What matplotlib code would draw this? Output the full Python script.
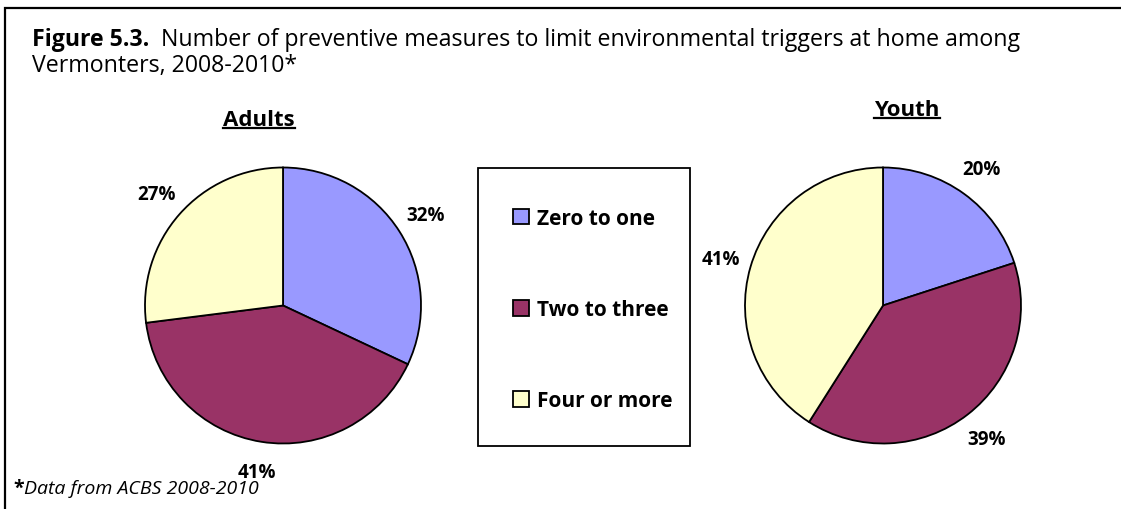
import matplotlib
matplotlib.use("Agg")
import matplotlib.pyplot as plt
from matplotlib.patches import Rectangle
from matplotlib.lines import Line2D

# Data
categories = ["Zero to one", "Two to three", "Four or more"]
adults = [32, 41, 27]
youth = [20, 39, 41]
colors = ["#9999FF", "#993366", "#FFFFCC"]

W, H = 1121, 510
FONT = "Open Sans"

fig = plt.figure(figsize=(W / 100, H / 100), dpi=100)
fig.patch.set_facecolor("white")


def fx(px):
    return px / W


def fy(py):
    return 1 - py / H


# Outer border (left and top edges visible)
fig.patches.append(Rectangle((fx(5), -0.2), 1.5, fy(9) + 0.2, transform=fig.transFigure,
                             fill=False, edgecolor="black", linewidth=1.6))

# Title
TITLE_SIZE = 16.7
t1 = fig.text(fx(32), fy(46), "Figure 5.3.", fontsize=TITLE_SIZE, fontweight="bold",
              family=FONT, va="baseline", ha="left")
fig.canvas.draw()
r = fig.canvas.get_renderer()
bb = t1.get_window_extent(r)
fig.text(bb.x1 / W, fy(46), "  Number of preventive measures to limit environmental triggers at home among",
         fontsize=TITLE_SIZE, family=FONT, va="baseline", ha="left")
fig.text(fx(32), fy(72), "Vermonters, 2008-2010*", fontsize=TITLE_SIZE, family=FONT,
         va="baseline", ha="left")

# Footnote
f1 = fig.text(fx(13), fy(494), "*", fontsize=14, fontweight="bold", family=FONT,
              va="baseline", ha="left")
fig.canvas.draw()
bbf = f1.get_window_extent(fig.canvas.get_renderer())
fig.text(bbf.x1 / W, fy(494), "Data from ACBS 2008-2010", fontsize=14, style="italic",
         family=FONT, va="baseline", ha="left")


def underlined_title(text, cx, baseline):
    t = fig.text(fx(cx), fy(baseline), text, fontsize=16, fontweight="bold",
                 family=FONT, ha="center", va="baseline")
    fig.canvas.draw()
    b = t.get_window_extent(fig.canvas.get_renderer())
    yline = fy(baseline + 3)
    fig.lines.append(Line2D([b.x0 / W, b.x1 / W], [yline, yline], transform=fig.transFigure,
                            color="black", linewidth=1.6))


def draw_pie(values, cx, cy, radius):
    ax = fig.add_axes([fx(cx - 1.5 * radius), fy(cy + 1.5 * radius),
                       3 * radius / W, 3 * radius / H])
    wedges, _, autotexts = ax.pie(
        values, colors=colors, startangle=90, counterclock=False,
        wedgeprops=dict(edgecolor="black", linewidth=1.3),
        autopct=lambda p: f"{p:.0f}%", pctdistance=1.22,
        textprops=dict(fontsize=13.5, fontweight="bold", family=FONT, color="black"),
    )
    ax.set_xlim(-1.5, 1.5)
    ax.set_ylim(-1.5, 1.5)
    ax.set_aspect("equal")
    ax.axis("off")
    return wedges


wedges = draw_pie(adults, 283, 306.5, 138)
draw_pie(youth, 883, 306.5, 138)

underlined_title("Adults", 259, 126)
underlined_title("Youth", 907, 116)

# Legend with its own frame
fig.patches.append(Rectangle((fx(478), fy(447)), (690 - 478) / W, (447 - 169) / H,
                             transform=fig.transFigure, fill=False,
                             edgecolor="black", linewidth=1.3))
fig.legend(wedges, categories, loc="center left", bbox_to_anchor=(fx(503), fy(310.5)),
           frameon=False, borderpad=0, handlelength=0.77, handleheight=0.77,
           handletextpad=0.34, labelspacing=3.38,
           prop=dict(family=FONT, weight="bold", size=15))

fig.savefig("out.png", dpi=100, facecolor="white")
